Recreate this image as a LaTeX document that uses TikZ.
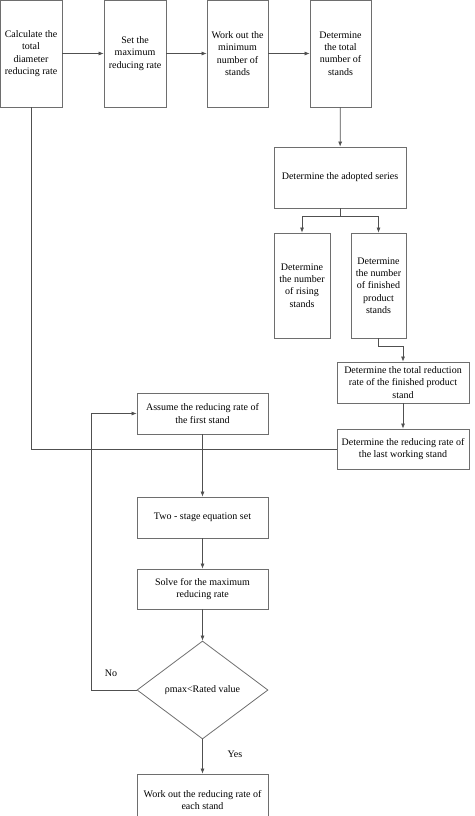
\documentclass[tikz,border=0pt]{standalone}
\usepackage{fontspec}
\setmainfont{Liberation Serif}
\usetikzlibrary{arrows.meta}
\usetikzlibrary{shapes.geometric}
\definecolor{boxgray}{RGB}{110,110,110}
\definecolor{linegray}{RGB}{80,80,80}

\begin{document}
\begin{tikzpicture}
[
    x=1pt, y=-1pt,
    box/.style={draw=boxgray, line width=0.8pt, inner sep=0pt, align=center,
        font=\fontsize{10}{12.3}\selectfont},                 % box = process step
    dec/.style={box, diamond, aspect=1.34},                    % dec = decision
    arr/.style={draw=linegray, line width=0.7pt, -{Latex[length=5pt,width=4pt]}},
    ln/.style={draw=linegray, line width=0.7pt},
]
\useasboundingbox (0,0) rectangle (474,816);
\clip (0,0) rectangle (474,816);

% top row
\node [box, minimum width=62pt, minimum height=107pt] (calc) at (31,53.5)
    {Calculate the\\ total\\ diameter\\ reducing rate};
\node [box, minimum width=62pt, minimum height=107pt] (setmax) at (135,53.5)
    {Set the\\ maximum\\ reducing rate};
\node [box, minimum width=61pt, minimum height=107pt] (workmin) at (237.5,53.5)
    {Work out the\\ minimum\\ number of\\ stands};
\node [box, minimum width=61pt, minimum height=107pt] (total) at (340.5,53.5)
    {Determine\\ the total\\ number of\\ stands};

% right column
\node [box, minimum width=132pt, minimum height=61pt] (series) at (340,177.5)
    {Determine the adopted series};
\node [box, minimum width=56pt, minimum height=105pt] (rising) at (302,285.5)
    {Determine\\ the number\\ of rising\\ stands};
\node [box, minimum width=55pt, minimum height=105pt] (finished) at (378.5,285.5)
    {Determine\\ the number\\ of finished\\ product\\ stands};
\node [box, minimum width=132pt, minimum height=41pt] (totred) at (403,382.5)
    {Determine the total reduction\\ rate of the finished product\\ stand};
\node [box, minimum width=132pt, minimum height=40pt] (lastw) at (403,449)
    {Determine the reducing rate of\\ the last working stand};

% middle column
\node [box, minimum width=131pt, minimum height=41pt] (assume) at (202.5,413.5)
    {Assume the reducing rate of\\ the first stand};
\node [box, minimum width=131pt, minimum height=41pt] (twostage) at (202.5,517.5)
    {Two - stage equation set};
\node [box, minimum width=131pt, minimum height=40pt] (solve) at (202.5,589)
    {Solve for the maximum\\ reducing rate};
\node [dec, minimum width=131pt, minimum height=98pt] (check) at (202.5,690)
    {ρmax<Rated value};
\node [box, minimum width=131pt, minimum height=52pt] (each) at (202.5,800)
    {Work out the reducing rate of\\ each stand};

\coordinate (loopx) at (91,0);
\node [font=\fontsize{10}{12}\selectfont] (no) at (111,673) {No};
\node [font=\fontsize{10}{12}\selectfont] (yes) at (235,754) {Yes};

% connectors
\draw [arr] (calc) -- (setmax);
\draw [arr] (setmax) -- (workmin);
\draw [arr] (workmin) -- (total);
\draw [arr] (total) -- (series);
\draw [arr] (series.south) -- ++(0,8) -| (rising.north);
\draw [arr] (series.south) -- ++(0,8) -| (finished.north);
\draw [arr] (finished.south) -- ++(0,8) -| (totred.north);
\draw [arr] (totred) -- (lastw);
\draw [ln] (calc.south) |- (lastw.west);
\draw [arr] (assume) -- (twostage);
\draw [arr] (twostage) -- (solve);
\draw [arr] (solve) -- (check);
\draw [arr] (check) -- (each);
\draw [arr] (check.west) -- (check.west -| loopx) |- (assume.west);
\end{tikzpicture}
\end{document}
